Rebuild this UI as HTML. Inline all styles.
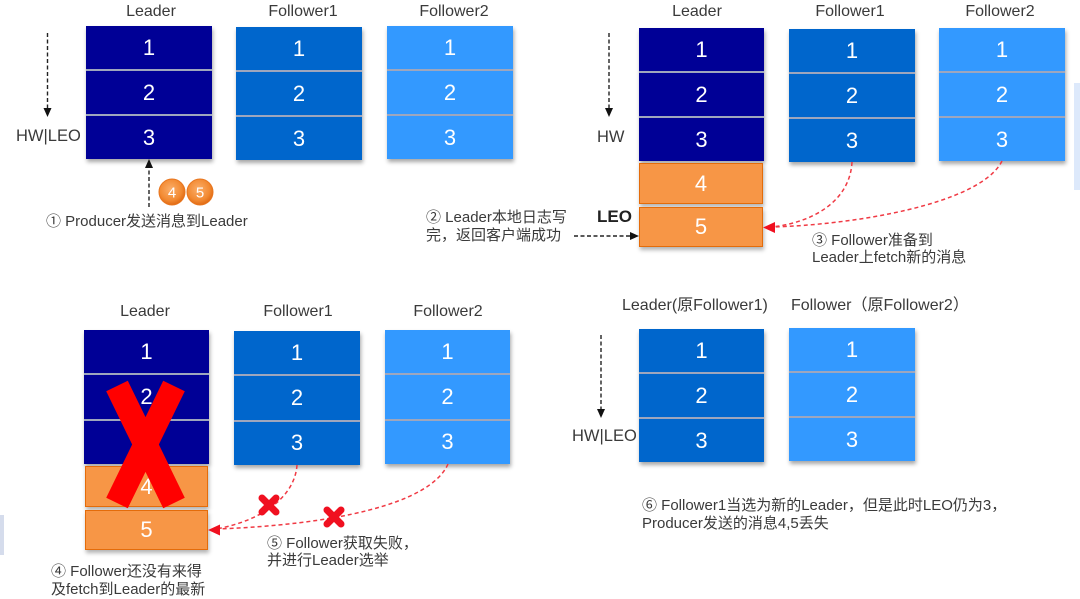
<!DOCTYPE html>
<html><head><meta charset="utf-8">
<style>
html,body{margin:0;padding:0;background:#fff;}
body{width:1080px;height:598px;position:relative;overflow:hidden;font-family:"Liberation Sans","Noto Sans CJK SC",sans-serif;color:#3a3a3a;}
.col{position:absolute;display:flex;flex-direction:column;gap:2px;background:#9ea6bd;box-shadow:1px 3px 4px rgba(0,0,0,0.35);}
.col div{flex:1;display:flex;align-items:center;justify-content:center;color:#fff;font-size:22px;}
.n div{background:#000096;}
.f1 div{background:#0066CC;}
.f2 div{background:#3399FF;}
.o{position:absolute;box-sizing:border-box;background:#F79646;border:1.5px solid #E46C0A;color:#fff;font-size:22px;display:flex;align-items:center;justify-content:center;box-shadow:1px 3px 4px rgba(0,0,0,0.3);}
.lb{position:absolute;width:200px;text-align:center;font-size:16px;line-height:18px;white-space:nowrap;}
.t{position:absolute;font-size:15px;line-height:18px;white-space:nowrap;}
.h{position:absolute;font-size:16.5px;line-height:18px;white-space:nowrap;}
svg{position:absolute;left:0;top:0;}
</style></head><body>

<div style="position:absolute;left:1074px;top:83px;width:6px;height:107px;background:#dde9fb;"></div>
<div style="position:absolute;left:0;top:515px;width:4px;height:40px;background:#d5dcec;"></div>

<!-- Top-left -->
<div class="lb" style="left:51px;top:3px;">Leader</div>
<div class="lb" style="left:203px;top:3px;">Follower1</div>
<div class="lb" style="left:354px;top:3px;">Follower2</div>
<div class="col n" style="left:86px;top:26px;width:126px;height:133px;"><div>1</div><div>2</div><div>3</div></div>
<div class="col f1" style="left:236px;top:27px;width:126px;height:133px;"><div>1</div><div>2</div><div>3</div></div>
<div class="col f2" style="left:387px;top:26px;width:126px;height:133px;"><div>1</div><div>2</div><div>3</div></div>
<div class="h" style="left:16px;top:127px;">HW|LEO</div>
<div class="t" style="left:46px;top:213px;">① Producer发送消息到Leader</div>

<!-- Top-right -->
<div class="lb" style="left:597px;top:3px;">Leader</div>
<div class="lb" style="left:750px;top:3px;">Follower1</div>
<div class="lb" style="left:900px;top:3px;">Follower2</div>
<div class="col n" style="left:639px;top:28px;width:125px;height:133px;"><div>1</div><div>2</div><div>3</div></div>
<div class="o" style="left:639px;top:163px;width:124px;height:41px;">4</div>
<div class="o" style="left:639px;top:207px;width:124px;height:40px;">5</div>
<div class="col f1" style="left:789px;top:29px;width:126px;height:133px;"><div>1</div><div>2</div><div>3</div></div>
<div class="col f2" style="left:939px;top:28px;width:126px;height:133px;"><div>1</div><div>2</div><div>3</div></div>
<div class="h" style="left:597px;top:128px;">HW</div>
<div class="h" style="left:597px;top:208px;font-weight:bold;font-size:17px;color:#222;">LEO</div>
<div class="t" style="left:426px;top:209px;">② Leader本地日志写<br>完，返回客户端成功</div>
<div class="t" style="left:812px;top:232px;line-height:17px;">③ Follower准备到<br>Leader上fetch新的消息</div>

<!-- Bottom-left -->
<div class="lb" style="left:45px;top:303px;">Leader</div>
<div class="lb" style="left:198px;top:303px;">Follower1</div>
<div class="lb" style="left:348px;top:303px;">Follower2</div>
<div class="col n" style="left:84px;top:330px;width:125px;height:134px;"><div>1</div><div>2</div><div>3</div></div>
<div class="o" style="left:85px;top:466px;width:123px;height:41px;">4</div>
<div class="o" style="left:85px;top:510px;width:123px;height:40px;">5</div>
<div class="col f1" style="left:234px;top:331px;width:126px;height:134px;"><div>1</div><div>2</div><div>3</div></div>
<div class="col f2" style="left:385px;top:330px;width:125px;height:134px;"><div>1</div><div>2</div><div>3</div></div>
<div class="t" style="left:51px;top:563px;">④ Follower还没有来得<br>及fetch到Leader的最新</div>
<div class="t" style="left:267px;top:535px;line-height:17px;">⑤ Follower获取失败，<br>并进行Leader选举</div>

<!-- Bottom-right -->
<div class="t" style="left:622px;top:297px;font-size:16px;">Leader(原Follower1)</div>
<div class="t" style="left:791px;top:297px;font-size:16px;">Follower（原Follower2）</div>
<div class="col f1" style="left:639px;top:329px;width:125px;height:133px;"><div>1</div><div>2</div><div>3</div></div>
<div class="col f2" style="left:789px;top:328px;width:126px;height:133px;"><div>1</div><div>2</div><div>3</div></div>
<div class="h" style="left:572px;top:427px;">HW|LEO</div>
<div class="t" style="left:642px;top:497px;">⑥ Follower1当选为新的Leader，但是此时LEO仍为3，<br>Producer发送的消息4,5丢失</div>

<svg width="1080" height="598" viewBox="0 0 1080 598">
  <defs>
    <radialGradient id="og" cx="45%" cy="40%" r="60%">
      <stop offset="0" stop-color="#FBAE6A"/>
      <stop offset="0.7" stop-color="#F28A32"/>
      <stop offset="1" stop-color="#E06A14"/>
    </radialGradient>
  </defs>
  <g stroke="#222" stroke-width="1.4" stroke-dasharray="4 2.5" fill="none">
    <line x1="47.5" y1="33" x2="47.5" y2="109"/>
    <line x1="609" y1="33" x2="609" y2="109"/>
    <line x1="601" y1="335" x2="601" y2="410"/>
    <line x1="149" y1="207" x2="149" y2="167"/>
    <line x1="574" y1="236" x2="631" y2="236"/>
  </g>
  <g fill="#111">
    <polygon points="43.5,108 51.5,108 47.5,117"/>
    <polygon points="605,108 613,108 609,117"/>
    <polygon points="597,409 605,409 601,418"/>
    <polygon points="145,168 153,168 149,159"/>
    <polygon points="630,232 630,240 639,236"/>
  </g>
  <circle cx="172" cy="192" r="13" fill="url(#og)" stroke="#E8751E" stroke-width="1"/>
  <circle cx="200" cy="192" r="13" fill="url(#og)" stroke="#E8751E" stroke-width="1"/>
  <text x="172" y="197.5" font-family="Liberation Sans, sans-serif" font-size="15" fill="#fff" text-anchor="middle">4</text>
  <text x="200" y="197.5" font-family="Liberation Sans, sans-serif" font-size="15" fill="#fff" text-anchor="middle">5</text>
  <g stroke="#F03A44" stroke-width="1.5" stroke-dasharray="4 3" fill="none">
    <path d="M852,162 C850,200 815,222 772,227"/>
    <path d="M1002,161 C980,205 850,225 772,227"/>
    <path d="M297,465 C295,495 265,520 216,529"/>
    <path d="M448,464 C430,505 330,525 216,529"/>
  </g>
  <g fill="#F01020">
    <polygon points="763,227.5 775,222 775,233"/>
    <polygon points="208,530 220,524.5 220,535.5"/>
  </g>
  <g stroke="#F01020" stroke-width="7" stroke-linecap="round">
    <line x1="262" y1="498" x2="276" y2="512"/>
    <line x1="276" y1="498" x2="262" y2="512"/>
    <line x1="327" y1="510" x2="341" y2="524"/>
    <line x1="341" y1="510" x2="327" y2="524"/>
  </g>
  <g stroke="#FF0000" stroke-width="24" stroke-linecap="butt">
    <line x1="117" y1="386" x2="174" y2="503"/>
    <line x1="174" y1="386" x2="117" y2="503"/>
  </g>
</svg>
</body></html>
